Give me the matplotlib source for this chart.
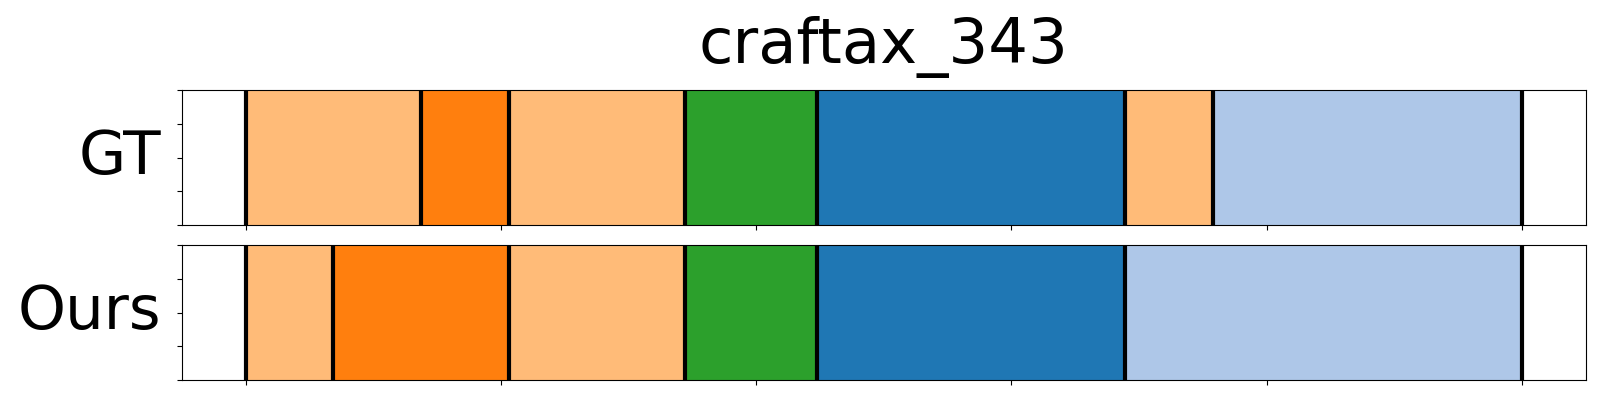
import matplotlib
matplotlib.use('Agg')
import matplotlib.pyplot as plt

title = 'craftax_343'
row_names = ['GT', 'Ours']
total_len = 500

# segment boundaries (frames) and colours per row
gt_bounds = [0, 68.6, 103.1, 172.0, 223.9, 344.5, 379.0, 500]
gt_colors = ['#ffbb78', '#ff7f0e', '#ffbb78', '#2ca02c', '#1f77b4', '#ffbb78', '#aec7e8']
ours_bounds = [0, 34.2, 103.1, 172.0, 223.9, 344.5, 500]
ours_colors = ['#ffbb78', '#ff7f0e', '#ffbb78', '#2ca02c', '#1f77b4', '#aec7e8']

rows = [(gt_bounds, gt_colors), (ours_bounds, ours_colors)]

fig, axes = plt.subplots(2, 1, figsize=(16, 4), dpi=100)
plt.subplots_adjust(left=0.1136, right=0.991, top=0.774, bottom=0.05, hspace=0.15)

for ax, name, (bounds, colors) in zip(axes, row_names, rows):
    for i in range(len(colors)):
        ax.axvspan(bounds[i], bounds[i + 1], ymin=0, ymax=1, color=colors[i], lw=0.5)
    for b in bounds:
        ax.axvline(b, color='black', lw=3)
    ax.set_xlim(-0.05 * total_len, 1.05 * total_len)
    ax.set_ylim(0, 1)
    ax.set_xticks(range(0, total_len + 1, 100))
    ax.set_xticklabels([])
    ax.set_yticks([0, 0.25, 0.5, 0.75, 1])
    ax.set_yticklabels([])
    ax.set_ylabel(name, fontsize=44, rotation=0, ha='right', va='center', labelpad=8)

axes[0].set_title(title, fontsize=45, y=1.0, pad=20)
plt.savefig('out.png')
